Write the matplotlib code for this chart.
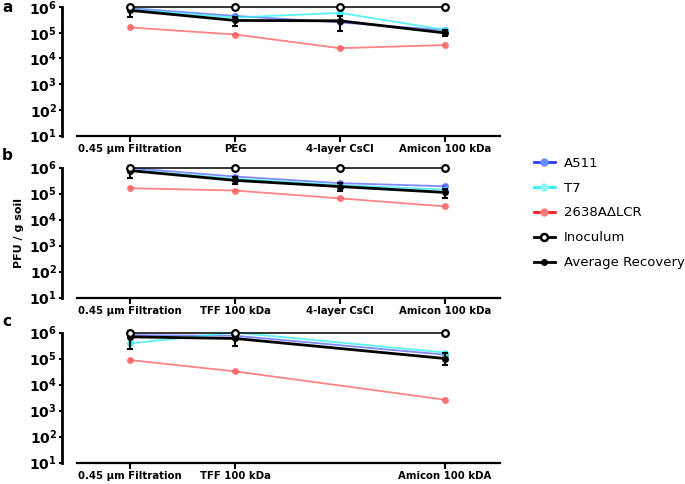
import matplotlib.pyplot as plt
import numpy as np
from matplotlib.lines import Line2D

# Panel a: methods and PFU / g soil
cats_a = ['0.45 \u03bcm Filtration', 'PEG', '4-layer CsCl', 'Amicon 100 kDa']
pos_a = [0, 1, 2, 3]
a511_a = [9.0e5, 4.5e5, 2.5e5, 1.25e5]
t7_a = [8.0e5, 3.9e5, 5.9e5, 1.3e5]
lcr_a = [1.6e5, 8.5e4, 2.5e4, 3.3e4]
inoc_a = [1e6, 1e6, 1e6, 1e6]
avg_a = [7.4e5, 3.0e5, 2.9e5, 9.8e4]
avg_lo_a = [4.0e5, 1.9e5, 1.2e5, 7.6e4]
avg_hi_a = [1.0e6, 4.1e5, 4.5e5, 1.3e5]

# Panel b
cats_b = ['0.45 \u03bcm Filtration', 'TFF 100 kDa', '4-layer CsCl', 'Amicon 100 kDa']
pos_b = [0, 1, 2, 3]
a511_b = [9.5e5, 4.5e5, 2.5e5, 1.9e5]
t7_b = [8.0e5, 3.7e5, 2.1e5, 1.4e5]
lcr_b = [1.6e5, 1.3e5, 6.5e4, 3.2e4]
inoc_b = [1e6, 1e6, 1e6, 1e6]
avg_b = [7.6e5, 3.2e5, 1.85e5, 1.1e5]
avg_lo_b = [4.0e5, 2.3e5, 1.3e5, 7.0e4]
avg_hi_b = [1.0e6, 4.5e5, 2.6e5, 1.5e5]

# Panel c (no CsCl step)
cats_c = ['0.45 \u03bcm Filtration', 'TFF 100 kDa', 'Amicon 100 kDA']
pos_c = [0, 1, 3]
a511_c = [7.9e5, 7.5e5, 1.4e5]
t7_c = [3.8e5, 1.0e6, 1.7e5]
lcr_c = [8.7e4, 3.2e4, 2.6e3]
inoc_c = [1e6, 1e6, 1e6]
avg_c = [6.8e5, 5.9e5, 1.0e5]
avg_lo_c = [2.4e5, 3.0e5, 5.6e4]
avg_hi_c = [1.1e6, 9.5e5, 1.7e5]

W, H = 685, 484
fig = plt.figure(figsize=(W / 100, H / 100), dpi=100)

BLUE = '#2a3cff'
CYAN = '#33f0f0'
RED = '#ff5a5a'


def make_axes(top_px, bot_px):
    left, right = 77, 500
    return fig.add_axes([left / W, 1 - bot_px / H, (right - left) / W,
                         (bot_px - top_px) / H])


def draw_panel(ax, pos, cats, a511, t7, lcr, inoc, avg, lo, hi, ylab=False):
    kw = dict(lw=1.3, ms=4, marker='o', clip_on=False, zorder=3)
    ax.plot(pos, a511, color=BLUE, alpha=0.6, **kw)
    ax.plot(pos, t7, color=CYAN, alpha=0.8, **kw)
    ax.plot(pos, lcr, color=RED, alpha=0.75, **kw)
    ax.plot(pos, inoc, color='black', lw=1.1, marker='o', ms=4.8,
            mfc='white', mec='black', mew=1.6, clip_on=False, zorder=5)
    avg = np.array(avg)
    yerr = [avg - np.array(lo), np.array(hi) - avg]
    ax.errorbar(pos, avg, yerr=yerr, color='black', lw=2.0, marker='o', ms=4,
                capsize=2.2, elinewidth=1.5, capthick=1.5, clip_on=False, zorder=4)

    ax.set_yscale('log')
    ax.set_ylim(10, 1e6)
    ax.set_xlim(-0.505, 3.525)
    ax.set_yticks([10 ** k for k in range(1, 7)])
    ax.set_yticklabels(['$\\mathbf{10^{%d}}$' % k for k in range(1, 7)], fontsize=5.5)
    ax.set_xticks(pos)
    ax.set_xticklabels(cats, fontsize=7.3, fontweight='bold')
    for sp in ['top', 'right']:
        ax.spines[sp].set_visible(False)
    ax.spines['left'].set_position(('outward', 11))
    ax.spines['left'].set_linewidth(2)
    ax.spines['bottom'].set_linewidth(1.6)
    ax.tick_params(axis='y', which='major', length=2.5, width=1.5, pad=1)
    ax.tick_params(axis='y', which='minor', length=1.5, width=0.8)
    ax.tick_params(axis='x', length=4, width=1.5, pad=2)
    if ylab:
        ax.set_ylabel('PFU / g soil', fontsize=8, fontweight='bold', labelpad=4)


ax_a = make_axes(7, 135.5)
draw_panel(ax_a, pos_a, cats_a, a511_a, t7_a, lcr_a, inoc_a,
           avg_a, avg_lo_a, avg_hi_a)
ax_b = make_axes(167.5, 297.5)
draw_panel(ax_b, pos_b, cats_b, a511_b, t7_b, lcr_b, inoc_b,
           avg_b, avg_lo_b, avg_hi_b, ylab=True)
ax_c = make_axes(332.5, 462.5)
draw_panel(ax_c, pos_c, cats_c, a511_c, t7_c, lcr_c, inoc_c,
           avg_c, avg_lo_c, avg_hi_c)

for letter, ypx in [('a', 8), ('b', 155), ('c', 322)]:
    fig.text(2 / W, 1 - ypx / H, letter, fontsize=11, fontweight='bold',
             va='center', ha='left')

handles = [
    Line2D([], [], color=BLUE, lw=2, marker='o', ms=5, mfc='#6a8cff', mec='#6a8cff'),
    Line2D([], [], color=CYAN, lw=2, marker='o', ms=5, mfc='#8ff5f5', mec='#8ff5f5'),
    Line2D([], [], color='#ff1f1f', lw=2, marker='o', ms=5, mfc='#ff7a7a', mec='#ff7a7a'),
    Line2D([], [], color='black', lw=2, marker='o', ms=5, mfc='white', mec='black', mew=1.8),
    Line2D([], [], color='black', lw=2, marker='o', ms=4),
]
labels = ['A511', 'T7', '2638A\u0394LCR', 'Inoculum', 'Average Recovery']
fig.legend(handles, labels, loc='center left', bbox_to_anchor=(522 / W, 1 - 213 / H),
           frameon=False, fontsize=9.5, handlelength=1.6, labelspacing=0.9,
           handletextpad=0.7)

fig.savefig('out.png', dpi=100)
